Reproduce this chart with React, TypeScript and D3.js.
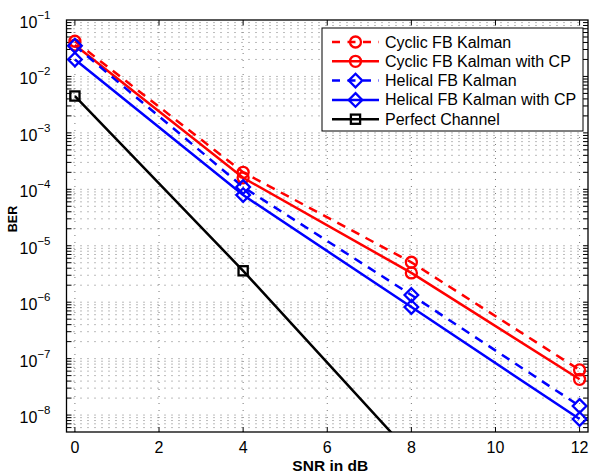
import React from "react";
import * as d3 from "d3";

const snr = [0, 4, 8, 12];
const cyclic = [0.042, 2.0e-4, 5.1e-6, 6.3e-8];
const cyclicCP = [0.036, 1.6e-4, 3.3e-6, 4.3e-8];
const helical = [0.035, 1.1e-4, 1.34e-6, 1.45e-8];
const helicalCP = [0.02, 7.9e-5, 8.2e-7, 8.5e-9];
const perfect = [0.0045, 3.6e-6, 2.0e-9, 1.0e-12];
const xTicks = [0, 2, 4, 6, 8, 10, 12];
const yExps = [-8, -7, -6, -5, -4, -3, -2, -1];
const seriesNames = [
  "Cyclic FB Kalman",
  "Cyclic FB Kalman with CP",
  "Helical FB Kalman",
  "Helical FB Kalman with CP",
  "Perfect Channel",
];

const W = 590, H = 474;
const L = 66.5, R = 588, T = 20, B = 432;
const FONT = "'Liberation Sans', Arial, Helvetica, sans-serif";

export default function App() {
  const x = d3.scaleLinear().domain([-0.2, 12.2]).range([L, R]);
  const y = d3.scaleLog().domain([Math.pow(10, -8.3), 0.1]).range([B, T]);

  const series = [
    { name: seriesNames[0], vals: cyclic, color: "#ff0000", dash: "9,7", marker: "circle" },
    { name: seriesNames[1], vals: cyclicCP, color: "#ff0000", dash: "", marker: "circle" },
    { name: seriesNames[2], vals: helical, color: "#0000ff", dash: "9,7", marker: "diamond" },
    { name: seriesNames[3], vals: helicalCP, color: "#0000ff", dash: "", marker: "diamond" },
    { name: seriesNames[4], vals: perfect, color: "#000000", dash: "", marker: "square" },
  ];

  const line = d3
    .line<number>()
    .x((_, i) => x(snr[i]))
    .y((d) => y(d));

  const marker = (kind: string, cx: number, cy: number, color: string, key: string) => {
    if (kind === "circle")
      return <circle key={key} cx={cx} cy={cy} r={5.5} fill="none" stroke={color} strokeWidth={2.3} />;
    if (kind === "diamond") {
      const s = 6.8;
      return (
        <path key={key} d={`M${cx},${cy - s}L${cx + s},${cy}L${cx},${cy + s}L${cx - s},${cy}Z`} fill="none" stroke={color} strokeWidth={2.3} />
      );
    }
    const s = 4.6;
    return <rect key={key} x={cx - s} y={cy - s} width={2 * s} height={2 * s} fill="none" stroke={color} strokeWidth={2.3} />;
  };

  const minorVals: number[] = [];
  for (let e = -9; e <= -2; e++) {
    for (let m = 1; m <= 9; m++) {
      const v = m * Math.pow(10, e);
      if (v >= Math.pow(10, -8.3) && v <= 0.1) minorVals.push(v);
    }
  }

  const legX = 322, legY = 28, legW = 261, legH = 103;
  const rowY = (i: number) => legY + 14 + i * 19.3;

  return (
    <svg width={W} height={H} style={{ position: "absolute", left: 0, top: 0, background: "#fff" }} fontFamily={FONT}>
      <rect x={0} y={0} width={W} height={H} fill="#fff" />
      <defs>
        <clipPath id="plotclip">
          <rect x={L} y={T} width={R - L} height={B - T} />
        </clipPath>
      </defs>
      {minorVals.map((v, i) => (
        <line key={"hg" + i} x1={L} x2={R} y1={y(v)} y2={y(v)} stroke="#555" strokeWidth={0.8} strokeDasharray="1,6" />
      ))}
      {xTicks.map((t) => (
        <line key={"vg" + t} x1={x(t)} x2={x(t)} y1={B} y2={T} stroke="#555" strokeWidth={0.8} strokeDasharray="1,6" />
      ))}
      {xTicks.map((t) => (
        <g key={"xt" + t}>
          <line x1={x(t)} x2={x(t)} y1={B} y2={B - 5} stroke="#000" />
          <line x1={x(t)} x2={x(t)} y1={T} y2={T + 5} stroke="#000" />
          <text x={x(t)} y={453} fontSize={16} textAnchor="middle" fill="#000">{t}</text>
        </g>
      ))}
      {minorVals.map((v, i) => (
        <g key={"yt" + i}>
          <line x1={L} x2={L + 5} y1={y(v)} y2={y(v)} stroke="#000" />
          <line x1={R} x2={R - 5} y1={y(v)} y2={y(v)} stroke="#000" />
        </g>
      ))}
      {yExps.map((e) => (
        <text key={"yl" + e} x={50.5} y={y(Math.pow(10, e)) + 8} fontSize={16} textAnchor="end" fill="#000">
          10
          <tspan dy={-9} fontSize={11.5}>{"\u2212" + Math.abs(e)}</tspan>
        </text>
      ))}
      <g clipPath="url(#plotclip)">
        {series.map((s, si) => (
          <path key={"s" + si} d={line(s.vals) || ""} fill="none" stroke={s.color} strokeWidth={2.5} strokeDasharray={s.dash || undefined} />
        ))}
        {series.map((s, si) =>
          s.vals.map((v, i) => marker(s.marker, x(snr[i]), y(v), s.color, `m${si}-${i}`))
        )}
      </g>
      <rect x={L} y={T} width={R - L} height={B - T} fill="none" stroke="#000" strokeWidth={1.3} />
      <text x={(L + R) / 2 + 3} y={470.5} fontSize={15.5} fontWeight="bold" textAnchor="middle" fill="#000">SNR in dB</text>
      <text transform={`translate(16.5,${219}) rotate(-90)`} fontSize={12.5} fontWeight="bold" textAnchor="middle" fill="#000">BER</text>
      <rect x={legX} y={legY} width={legW} height={legH} fill="#fff" stroke="#000" strokeWidth={1} />
      {series.map((s, i) => (
        <g key={"lg" + i}>
          <line x1={332} x2={379} y1={rowY(i)} y2={rowY(i)} stroke={s.color} strokeWidth={2.5} strokeDasharray={s.dash ? "8,7.5" : undefined} />
          {marker(s.marker, 355.5, rowY(i), s.color, "lm" + i)}
          <text x={385} y={rowY(i) + 5.5} fontSize={16} fill="#000">{s.name}</text>
        </g>
      ))}
    </svg>
  );
}
